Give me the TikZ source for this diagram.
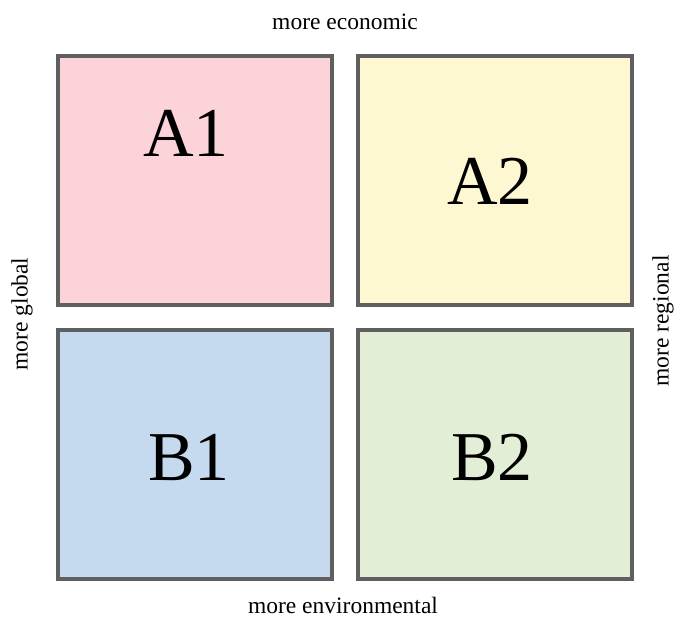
\documentclass[tikz,border=0pt]{standalone}
\usepackage{fontspec}
\setmainfont{Liberation Serif}
\definecolor{boxgray}{HTML}{5F5F5F}
\definecolor{qpink}{HTML}{FBD3D8}
\definecolor{qyellow}{HTML}{FDF8D2}
\definecolor{qblue}{HTML}{C6DAEF}
\definecolor{qgreen}{HTML}{E2EED6}
\begin{document}
\begin{tikzpicture}[x=1pt,y=-1pt,
  quad/.style={draw=boxgray, line width=4pt, minimum width=274pt, minimum height=249pt, inner sep=0pt},
  big/.style={anchor=base, inner sep=0pt, font=\fontsize{70}{80}\selectfont},
  axislabel/.style={inner sep=0pt, font=\fontsize{23.5}{28}\selectfont}]
\useasboundingbox (0,0) rectangle (674,617);
\node[quad, fill=qpink]   (qA1) at (195,180.5) {};
\node[quad, fill=qyellow] (qA2) at (495,180.5) {};
\node[quad, fill=qblue]   (qB1) at (195,454.5) {};
\node[quad, fill=qgreen]  (qB2) at (495,454.5) {};
\node[big] (tA1) at (186,157) {A1};
\node[big] (tA2) at (490,205) {A2};
\node[big] (tB1) at (189,480) {B1};
\node[big] (tB2) at (492,480) {B2};
\node[axislabel, anchor=base] (lecon) at (345,30) {more economic};
\node[axislabel, anchor=base] (lenv) at (343,613) {more environmental};
\node[axislabel, rotate=90] (lglob) at (22,314) {more global};
\node[axislabel, rotate=90] (lreg) at (663,321) {more regional};
\end{tikzpicture}
\end{document}
